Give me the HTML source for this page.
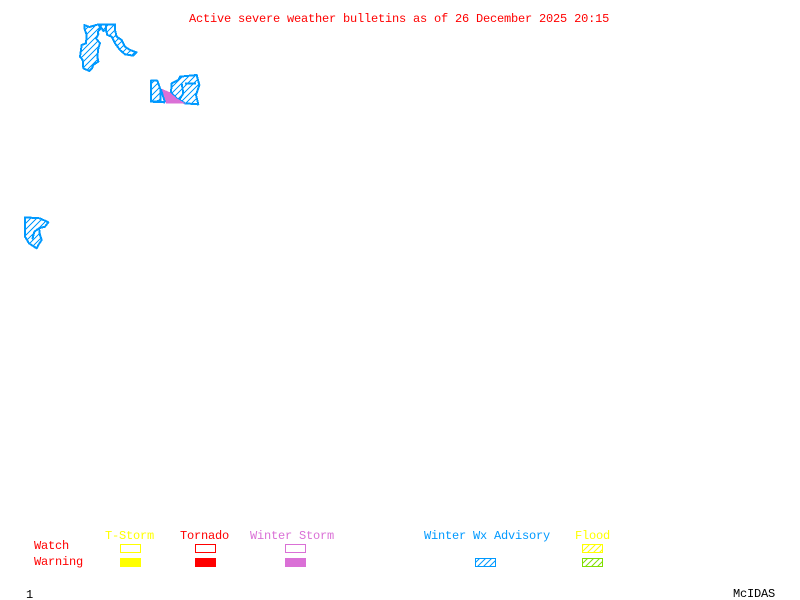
<!DOCTYPE html>
<html><head><meta charset="utf-8"><style>
html,body{margin:0;padding:0;background:#fff}
svg{display:block}
text{font-family:"Liberation Mono",monospace;font-size:12px;letter-spacing:-0.2px;white-space:pre}
</style></head><body>
<svg width="800" height="600" viewBox="0 0 800 600" xmlns="http://www.w3.org/2000/svg">
<defs>
<pattern id="hb" patternUnits="userSpaceOnUse" width="18" height="18"><path d="M-6 24L24 -6M-6 6L6 -6M12 24L24 12" stroke="#0099ff" stroke-width="3.2" fill="none" shape-rendering="crispEdges"/></pattern>
<pattern id="lb" patternUnits="userSpaceOnUse" width="6" height="6"><path d="M-2 8L8 -2M-2 2L2 -2M4 8L8 4" stroke="#0099ff" stroke-width="1" fill="none"/></pattern>
<pattern id="ly" patternUnits="userSpaceOnUse" width="6" height="6"><path d="M-2 8L8 -2M-2 2L2 -2M4 8L8 4" stroke="#ffff00" stroke-width="1" fill="none"/></pattern>
<pattern id="lg" patternUnits="userSpaceOnUse" width="6" height="6"><path d="M-2 8L8 -2M-2 2L2 -2M4 8L8 4" stroke="#7fdf00" stroke-width="1" fill="none"/></pattern>
</defs>
<rect width="800" height="600" fill="#fff"/>
<g transform="translate(70,15) scale(.33333)" stroke="#0099ff" stroke-width="6" stroke-linejoin="round" shape-rendering="crispEdges">
<path fill="url(#hb)" d="M43 30L58 36L85 28L92 40L84 50L85 58L78 70L90 85L85 100L82 125L85 140L70 150L66 160L58 168L40 160L38 135L30 125L35 90L48 85L50 60L43 40Z"/>
<path fill="url(#hb)" d="M108 28L135 28L135 45L140 65L155 75L165 95L180 105L200 112L190 122L165 118L150 105L135 85L125 65L112 60L108 45Z"/>
<path fill="url(#hb)" d="M85 28L108 28L108 45L100 48L92 35Z"/>
<path fill="url(#hb)" d="M243 197L262 197L272 225L272 258L243 260Z"/>
<path fill="url(#hb)" d="M305 205L325 195L330 185L380 180L388 210L378 240L385 268L345 265L320 250L303 232Z"/>
<path fill="none" d="M335 205L340 235L325 260M345 205L378 205"/>
<path fill="#da70d6" stroke="none" d="M272 220L300 232L320 250L348 266L288 266L280 248Z"/>
<path fill="none" d="M243 260L285 262M272 222L285 262"/>
</g>
<g transform="translate(15,210) scale(.33333)" stroke="#0099ff" stroke-width="6" stroke-linejoin="round" shape-rendering="crispEdges">
<path fill="url(#hb)" d="M30 22L75 25L100 37L90 50L72 55L75 75L80 90L70 105L65 115L42 100L30 80L30 50Z"/>
<path fill="none" d="M72 55L58 65L52 88"/>
</g>
<text x="189" y="22" fill="#ff0000">Active severe weather bulletins as of 26 December 2025 20:15</text>
<text x="105" y="539" fill="#ffff00">T-Storm</text>
<text x="180" y="539" fill="#ff0000">Tornado</text>
<text x="250" y="539" fill="#da70d6">Winter Storm</text>
<text x="424" y="539" fill="#0099ff">Winter Wx Advisory</text>
<text x="575" y="539" fill="#ffff00">Flood</text>
<text x="34" y="549" fill="#ff0000">Watch</text>
<text x="34" y="565" fill="#ff0000">Warning</text>
<text x="26" y="598" fill="#000">1</text>
<text x="733" y="597" fill="#000">McIDAS</text>
<g shape-rendering="crispEdges" stroke-width="1">
<rect x="120.5" y="544.5" width="20" height="8" fill="none" stroke="#ffff00"/>
<rect x="195.5" y="544.5" width="20" height="8" fill="none" stroke="#ff0000"/>
<rect x="285.5" y="544.5" width="20" height="8" fill="none" stroke="#da70d6"/>
<rect x="120" y="558" width="21" height="9" fill="#ffff00"/>
<rect x="195" y="558" width="21" height="9" fill="#ff0000"/>
<rect x="285" y="558" width="21" height="9" fill="#da70d6"/>
</g>
<rect x="475.5" y="558.5" width="20" height="8" fill="url(#lb)" stroke="#0099ff"/>
<rect x="582.5" y="544.5" width="20" height="8" fill="url(#ly)" stroke="#ffff00"/>
<rect x="582.5" y="558.5" width="20" height="8" fill="url(#lg)" stroke="#7fdf00"/>
</svg>
</body></html>
